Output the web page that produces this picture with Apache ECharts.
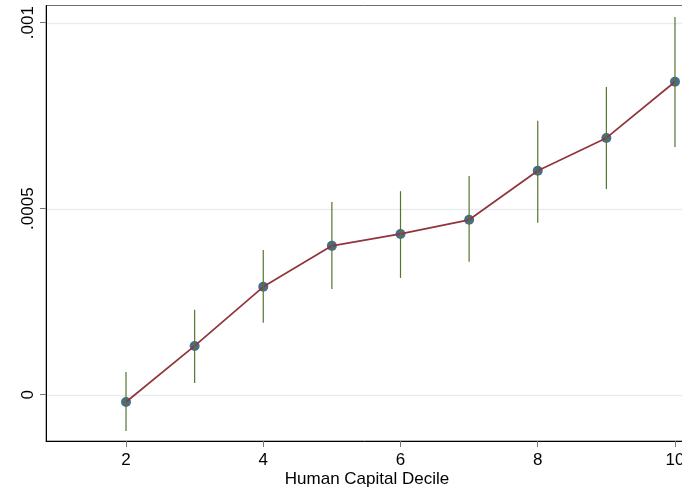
<!DOCTYPE html>
<html>
<head>
<meta charset="utf-8">
<script src="https://cdn.jsdelivr.net/npm/echarts@6/dist/echarts.min.js"></script>
<style>html,body{margin:0;padding:0;background:#fff;}#c{width:682px;height:496px;}</style>
</head>
<body>
<div id="c"></div>
<script>
const deciles = [2, 3, 4, 5, 6, 7, 8, 9, 10];
const coef = [-0.0000196, 0.000131, 0.00029, 0.0004, 0.000432, 0.00047, 0.000602, 0.00069, 0.000841];
const ciHigh = [0.000061, 0.000228, 0.000389, 0.000518, 0.000547, 0.000588, 0.000736, 0.000827, 0.001015];
const ciLow = [-0.0000976, 0.0000315, 0.000193, 0.000284, 0.000314, 0.000357, 0.000462, 0.000553, 0.000666];
const xTickVals = [2, 4, 6, 8, 10];
const yTickVals = [0, 0.0005, 0.001];
const yTickLabels = ['0', '.0005', '.001'];
const xTitle = 'Human Capital Decile';

const pts = deciles.map((d, i) => [d, coef[i]]);
const bars = deciles.map((d, i) => [d, ciLow[i], ciHigh[i]]);
const FONT = '"Liberation Sans", Arial, Helvetica, sans-serif';

const chart = echarts.init(document.getElementById('c'), null, {renderer: 'canvas'});
chart.setOption({
  backgroundColor: '#ffffff',
  animation: false,
  grid: {
    left: 46, top: 5.5, height: 435.5, width: 709,
    outerBoundsMode: 'none', containLabel: false,
    show: true, borderColor: '#6e6e6e', borderWidth: 1, backgroundColor: 'transparent'
  },
  xAxis: {
    type: 'value', min: 0.834, max: 11.166,
    axisLine: {show: true, onZero: false, lineStyle: {color: '#000', width: 1}},
    axisTick: {show: true, length: 6, customValues: xTickVals, lineStyle: {color: '#777', width: 1}},
    axisLabel: {customValues: xTickVals, margin: 11, color: '#000', fontSize: 17, fontFamily: FONT},
    splitLine: {show: false}
  },
  yAxis: {
    type: 'value', min: -0.0001245, max: 0.001046,
    axisLine: {show: true, onZero: false, lineStyle: {color: '#000', width: 1}},
    axisTick: {show: true, length: 6, customValues: yTickVals, lineStyle: {color: '#777', width: 1}},
    axisLabel: {
      customValues: yTickVals, rotate: 90, margin: 9, color: '#000', fontSize: 17, fontFamily: FONT,
      formatter: v => { const i = yTickVals.findIndex(t => Math.abs(t - v) < 1e-9); return i >= 0 ? yTickLabels[i] : ''; }
    },
    splitLine: {show: false}
  },
  graphic: [{
    type: 'text', x: 367, y: 479,
    style: {text: xTitle, align: 'center', verticalAlign: 'middle', fill: '#000', font: '17px ' + FONT}
  }],
  series: [
    {
      type: 'custom', z: 0, silent: true, clip: false,
      data: yTickVals.map(v => [0.834, v]),
      renderItem: (params, api) => {
        const cs = params.coordSys;
        const p = api.coord([api.value(0), api.value(1)]);
        const y = Math.round(p[1]) + 0.5;
        return {type: 'line', shape: {x1: cs.x + 1, y1: y, x2: cs.x + cs.width, y2: y},
          style: {stroke: '#e6edf1', lineWidth: 1.5}};
      }
    },
    {
      type: 'scatter', data: pts, symbol: 'circle', symbolSize: 10, z: 2,
      itemStyle: {color: '#1a476f'}
    },
    {
      type: 'line', data: pts, showSymbol: false, symbol: 'none', z: 3,
      lineStyle: {color: '#90353b', width: 1.7}
    },
    {
      type: 'custom', z: 4, data: bars,
      renderItem: (params, api) => {
        const a = api.coord([api.value(0), api.value(1)]);
        const b = api.coord([api.value(0), api.value(2)]);
        return {type: 'line', shape: {x1: a[0], y1: a[1], x2: b[0], y2: b[1]},
          style: {stroke: '#55752f', lineWidth: 1.2}};
      }
    }
  ]
});
</script>
</body>
</html>
